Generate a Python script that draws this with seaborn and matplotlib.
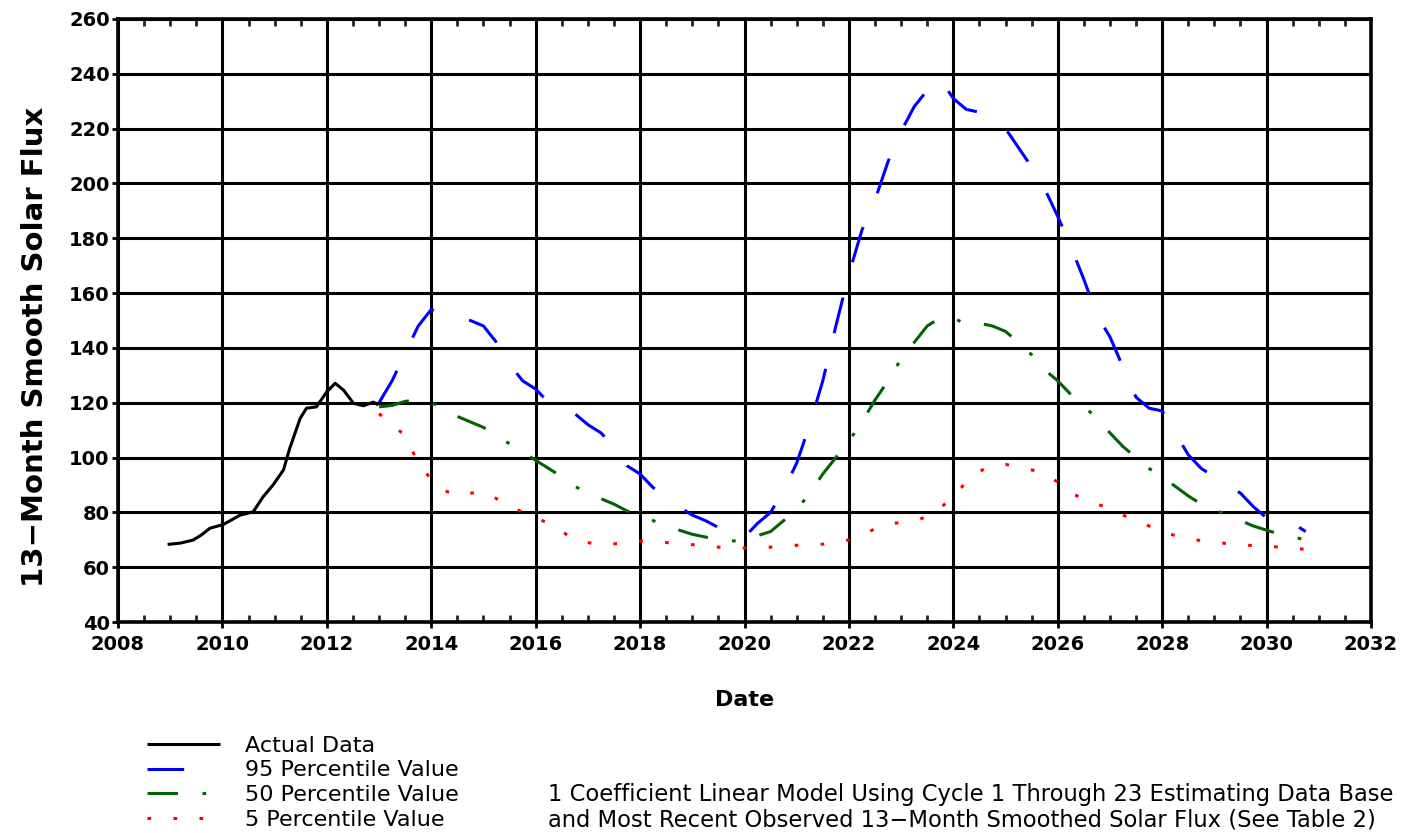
import numpy as np
import pandas as pd
import matplotlib
matplotlib.use("Agg")
import matplotlib.pyplot as plt
import seaborn as sns

# ---------------- data ----------------
actual_year = [2008.95, 2009.2, 2009.44, 2009.6, 2009.76, 2010.02, 2010.34, 2010.59, 2010.78,
               2010.97, 2011.17, 2011.29, 2011.49, 2011.61, 2011.8, 2012.0, 2012.16,
               2012.32, 2012.51, 2012.7, 2012.89, 2012.99]
actual_flux = [68.3, 68.8, 69.9, 71.8, 74.2, 75.6, 79.0, 80.2, 85.7,
               90.0, 95.5, 103.4, 114.3, 118.0, 118.5, 124.0, 127.1,
               124.6, 119.8, 118.9, 120.2, 119.2]

pred_year = [2013.0, 2013.25, 2013.5, 2013.75, 2014.0, 2014.25, 2014.5, 2014.75,
             2015.0, 2015.25, 2015.5, 2015.75, 2016.0, 2016.25, 2016.5, 2016.75,
             2017.0, 2017.25, 2017.5, 2017.75, 2018.0, 2018.25, 2018.5, 2018.75,
             2019.0, 2019.25, 2019.5, 2019.75, 2020.0, 2020.25, 2020.5, 2020.75,
             2021.0, 2021.25, 2021.5, 2021.75, 2022.0, 2022.25, 2022.5, 2022.75,
             2023.0, 2023.25, 2023.5, 2023.75, 2024.0, 2024.25, 2024.5, 2024.75,
             2025.0, 2025.25, 2025.5, 2025.75, 2026.0, 2026.25, 2026.5, 2026.75,
             2027.0, 2027.25, 2027.5, 2027.75, 2028.0, 2028.25, 2028.5, 2028.75,
             2029.0, 2029.25, 2029.5, 2029.75, 2030.0, 2030.25, 2030.5, 2030.75]

p95 = [120, 128, 138, 148, 154, 152, 151, 150,
       148, 142, 134, 128, 125, 120, 118, 116,
       112, 109, 104, 97, 94, 89, 86, 82,
       79, 77, 74.5, 72, 71, 76, 80, 88,
       98, 112, 128, 148, 167, 183, 194, 208,
       219, 228, 234, 238, 231, 227, 226, 223,
       220, 213, 206, 198, 188, 177, 165, 152,
       144, 133, 122, 118, 117, 109, 101, 96,
       93, 90, 87, 82, 78, 77, 76, 73]

p50 = [118.5, 119, 120.5, 121, 120, 118, 115, 113,
       111, 108, 105, 102, 99, 96, 93, 89.5,
       87, 85, 83, 80.5, 79, 77, 75, 73.5,
       72, 71, 70, 69.5, 70, 71.5, 73, 77,
       81, 87, 94, 100, 106, 113, 121, 128,
       136, 142, 148, 151, 151, 148.5, 149, 148,
       146, 142, 137.5, 132, 128, 123, 119, 114,
       109, 104, 100, 96, 93, 89.5, 86, 83,
       81, 79, 77, 75, 73.5, 72, 71, 70]

p5 = [116, 112, 108, 98, 92, 88, 86, 87,
      87.5, 85, 82.5, 80, 78, 76, 73, 70,
      69, 68, 68.5, 69, 69.5, 69.5, 69, 68.5,
      68.2, 68, 67.3, 67, 67, 67, 67.3, 67.7,
      68, 68.1, 68.4, 68.8, 70, 71.7, 74, 75.8,
      76.3, 76.8, 78.5, 81.5, 86, 91, 95, 97,
      97.5, 96.5, 95.5, 94.3, 91, 87, 85, 83,
      81.5, 79, 77, 75, 73, 71.5, 70.3, 69.7,
      69.1, 68.6, 68.1, 67.9, 67.7, 67.3, 66.9, 66.5]

legend_labels = ["Actual Data", "95 Percentile Value", "50 Percentile Value", "5 Percentile Value"]
note_lines = ["1 Coefficient Linear Model Using Cycle 1 Through 23 Estimating Data Base",
              "and Most Recent Observed 13\u2212Month Smoothed Solar Flux (See Table 2)"]

# ---------------- style ----------------
sns.set_theme(style="white")
plt.rcParams["font.family"] = ["DejaVu Sans"]
plt.rcParams["text.color"] = "black"
plt.rcParams["axes.labelcolor"] = "black"

W, H = 1418, 833
fig = plt.figure(figsize=(W / 100, H / 100), dpi=100)
ax = fig.add_axes([118 / W, 1 - 622 / H, (1371 - 118) / W, (622 - 19) / H])

LW = 2.2
ax.grid(True, which="major", color="black", linewidth=LW, zorder=1)
ax.set_axisbelow(True)

df_a = pd.DataFrame({"year": actual_year, "flux": actual_flux})
df_p = pd.DataFrame({"year": pred_year, "p95": p95, "p50": p50, "p5": p5})

sns.lineplot(data=df_a, x="year", y="flux", ax=ax, color="black", linewidth=LW,
             estimator=None, sort=False, zorder=3)
sns.lineplot(data=df_p, x="year", y="p95", ax=ax, color="#0000ff", linewidth=LW,
             estimator=None, sort=False, zorder=3)
ax.lines[-1].set_dashes((12, 12))
sns.lineplot(data=df_p, x="year", y="p50", ax=ax, color="#006400", linewidth=LW,
             estimator=None, sort=False, zorder=3)
ax.lines[-1].set_dashes((10, 8, 1.2, 8))
sns.lineplot(data=df_p, x="year", y="p5", ax=ax, color="#ff0000", linewidth=LW,
             estimator=None, sort=False, zorder=3)
ax.lines[-1].set_dashes((1.2, 7.3))
for ln in ax.lines:
    ln.set_dash_capstyle("butt")
    ln.set_solid_capstyle("butt")

ax.set_xlim(2008, 2032)
ax.set_ylim(40, 260)
ax.set_xticks(np.arange(2008, 2033, 2))
ax.set_xticks(np.arange(2008, 2032.1, 0.5), minor=True)
ax.set_yticks(np.arange(40, 261, 20))

ax.tick_params(axis="x", which="major", direction="out", length=4, width=2,
               labelsize=14, pad=5, colors="black", bottom=True, top=False)
ax.tick_params(axis="x", which="minor", direction="in", length=5, width=2,
               bottom=True, top=True)
ax.tick_params(axis="y", which="major", direction="out", length=4, width=2,
               labelsize=14, pad=2, colors="black", left=True)
for lab in ax.get_xticklabels() + ax.get_yticklabels():
    lab.set_fontweight("bold")

for sp in ax.spines.values():
    sp.set_color("black")
    sp.set_linewidth(2.6)
    sp.set_zorder(4)

ax.set_xlabel("Date", fontsize=16, fontweight="bold", color="black")
ax.set_ylabel("13\u2212Month Smooth Solar Flux", fontsize=21, fontweight="bold", color="black")
ax.xaxis.set_label_coords(0.5, -(700 - 622) / 603)
ax.xaxis.label.set_va("center")
ax.yaxis.set_label_coords(-(118 - 35) / 1253, (622 - 347) / 603)
ax.yaxis.label.set_va("center")

fs_leg = 16
fpx = fs_leg * 100 / 72
handles = ax.lines[:4]
leg = ax.legend(handles, legend_labels, loc="upper left",
                bbox_to_anchor=(147 / W, 1 - 735.5 / H), bbox_transform=fig.transFigure,
                frameon=False, fontsize=fs_leg, handlelength=73 / fpx,
                handletextpad=25 / fpx, labelspacing=0.22,
                borderpad=0, borderaxespad=0, labelcolor="black")

fs_note = 16.3
fig.text(548 / W, 1 - 795 / H, note_lines[0], fontsize=fs_note, va="center", ha="left", color="black")
fig.text(548 / W, 1 - 820 / H, note_lines[1], fontsize=fs_note, va="center", ha="left", color="black")

fig.savefig("out.png", dpi=100, facecolor="white")
